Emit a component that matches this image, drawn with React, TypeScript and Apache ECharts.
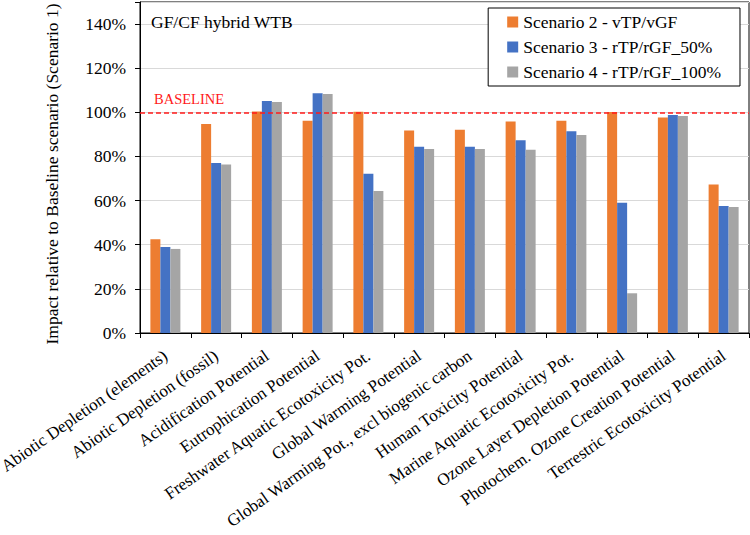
import React, { useEffect, useRef } from "react";
import * as echarts from "echarts";

// Impact categories (x axis)
const categories: string[] = [
  "Abiotic Depletion (elements)",
  "Abiotic Depletion (fossil)",
  "Acidification Potential",
  "Eutrophication Potential",
  "Freshwater Aquatic Ecotoxicity Pot.",
  "Global Warming Potential",
  "Global Warming Pot., excl biogenic carbon",
  "Human Toxicity Potential",
  "Marine Aquatic Ecotoxicity Pot.",
  "Ozone Layer Depletion Potential",
  "Photochem. Ozone Creation Potential",
  "Terrestric Ecotoxicity Potential",
];

// Impact relative to the baseline scenario, in percent
const scenario2: number[] = [42.5, 94.7, 100.4, 96.2, 100.3, 91.8, 92.1, 95.9, 96.2, 100.1, 97.7, 67.3];
const scenario3: number[] = [39.0, 77.0, 105.1, 108.6, 72.2, 84.4, 84.4, 87.3, 91.4, 59.0, 98.8, 57.6];
const scenario4: number[] = [38.1, 76.4, 104.7, 108.3, 64.3, 83.4, 83.4, 83.1, 89.7, 18.0, 98.3, 57.1];

const seriesNames: string[] = [
  "Scenario 2 - vTP/vGF",
  "Scenario 3 - rTP/rGF_50%",
  "Scenario 4 - rTP/rGF_100%",
];
const seriesColors: string[] = ["#ED7D31", "#4472C4", "#A5A5A5"];

const baselineValue = 100;
const yMin = 0;
const yMax = 150;
const yInterval = 20;

const FONT = "Liberation Serif";

export default function App() {
  const ref = useRef<HTMLDivElement>(null);

  useEffect(() => {
    if (!ref.current) return;
    const chart = echarts.init(ref.current, null, { renderer: "svg" });

    const seriesData = [scenario2, scenario3, scenario4];

    const series: any[] = seriesData.map((data, i) => ({
      name: seriesNames[i],
      type: "bar",
      data,
      barWidth: 10,
      barGap: "0%",
      itemStyle: { color: seriesColors[i] },
    }));

    series[0].markLine = {
      silent: true,
      symbol: "none",
      label: { show: false },
      lineStyle: { color: "#FF1A1A", type: [5, 3], width: 1.5 },
      data: [{ yAxis: baselineValue }],
      z: 5,
    };

    chart.setOption({
      animation: false,
      backgroundColor: "#fff",
      textStyle: { fontFamily: FONT },
      grid: {
        left: 140,
        top: 2,
        right: 1,
        bottom: 202,
        show: true,
        borderColor: "#000",
        borderWidth: 1,
        containLabel: false,
        outerBoundsMode: "none",
      },
      legend: {
        orient: "vertical",
        right: 10,
        top: 8,
        icon: "rect",
        itemWidth: 11,
        itemHeight: 11,
        itemGap: 7,
        padding: [5, 19, 5, 19],
        borderColor: "#000",
        borderWidth: 1,
        backgroundColor: "#fff",
        textStyle: { fontFamily: FONT, fontSize: 17.5, color: "#000", lineHeight: 17 },
        data: seriesNames,
      },
      xAxis: {
        type: "category",
        data: categories,
        axisLine: { lineStyle: { color: "#000", width: 1 } },
        axisTick: { show: true, length: 5, lineStyle: { color: "#000" } },
        axisLabel: {
          interval: 0,
          rotate: 35,
          margin: 21,
          fontFamily: FONT,
          fontSize: 17,
          color: "#000",
        },
      },
      yAxis: {
        type: "value",
        min: yMin,
        max: yMax,
        interval: yInterval,
        axisLine: { show: true, lineStyle: { color: "#000", width: 1 } },
        axisTick: { show: true, length: 5, lineStyle: { color: "#000" } },
        splitLine: { lineStyle: { color: "#D9D9D9", width: 1 } },
        axisLabel: {
          fontFamily: FONT,
          fontSize: 17.5,
          color: "#000",
          margin: 14,
          formatter: (v: number) => (v % yInterval === 0 ? `${v}%` : ""),
        },
      },
      graphic: [
        {
          type: "text",
          left: 151,
          top: 13,
          z: 10,
          style: {
            text: "GF/CF hybrid WTB",
            fontFamily: FONT,
            fontSize: 17.5,
            fill: "#000",
          },
        },
        {
          type: "text",
          left: 154,
          top: 91,
          z: 10,
          style: {
            text: "BASELINE",
            fontFamily: FONT,
            fontSize: 14.5,
            fill: "#FF1A1A",
          },
        },
        {
          type: "text",
          x: 52,
          y: 174,
          rotation: Math.PI / 2,
          z: 10,
          style: {
            text: "Impact relative to Baseline scenario (Scenario 1)",
            fontFamily: FONT,
            fontSize: 17.5,
            fill: "#000",
            align: "center",
            verticalAlign: "middle",
          },
        },
      ],
      series,
    });

    return () => chart.dispose();
  }, []);

  return (
    <div
      ref={ref}
      style={{ position: "absolute", left: 0, top: 0, width: 750, height: 535 }}
    />
  );
}
